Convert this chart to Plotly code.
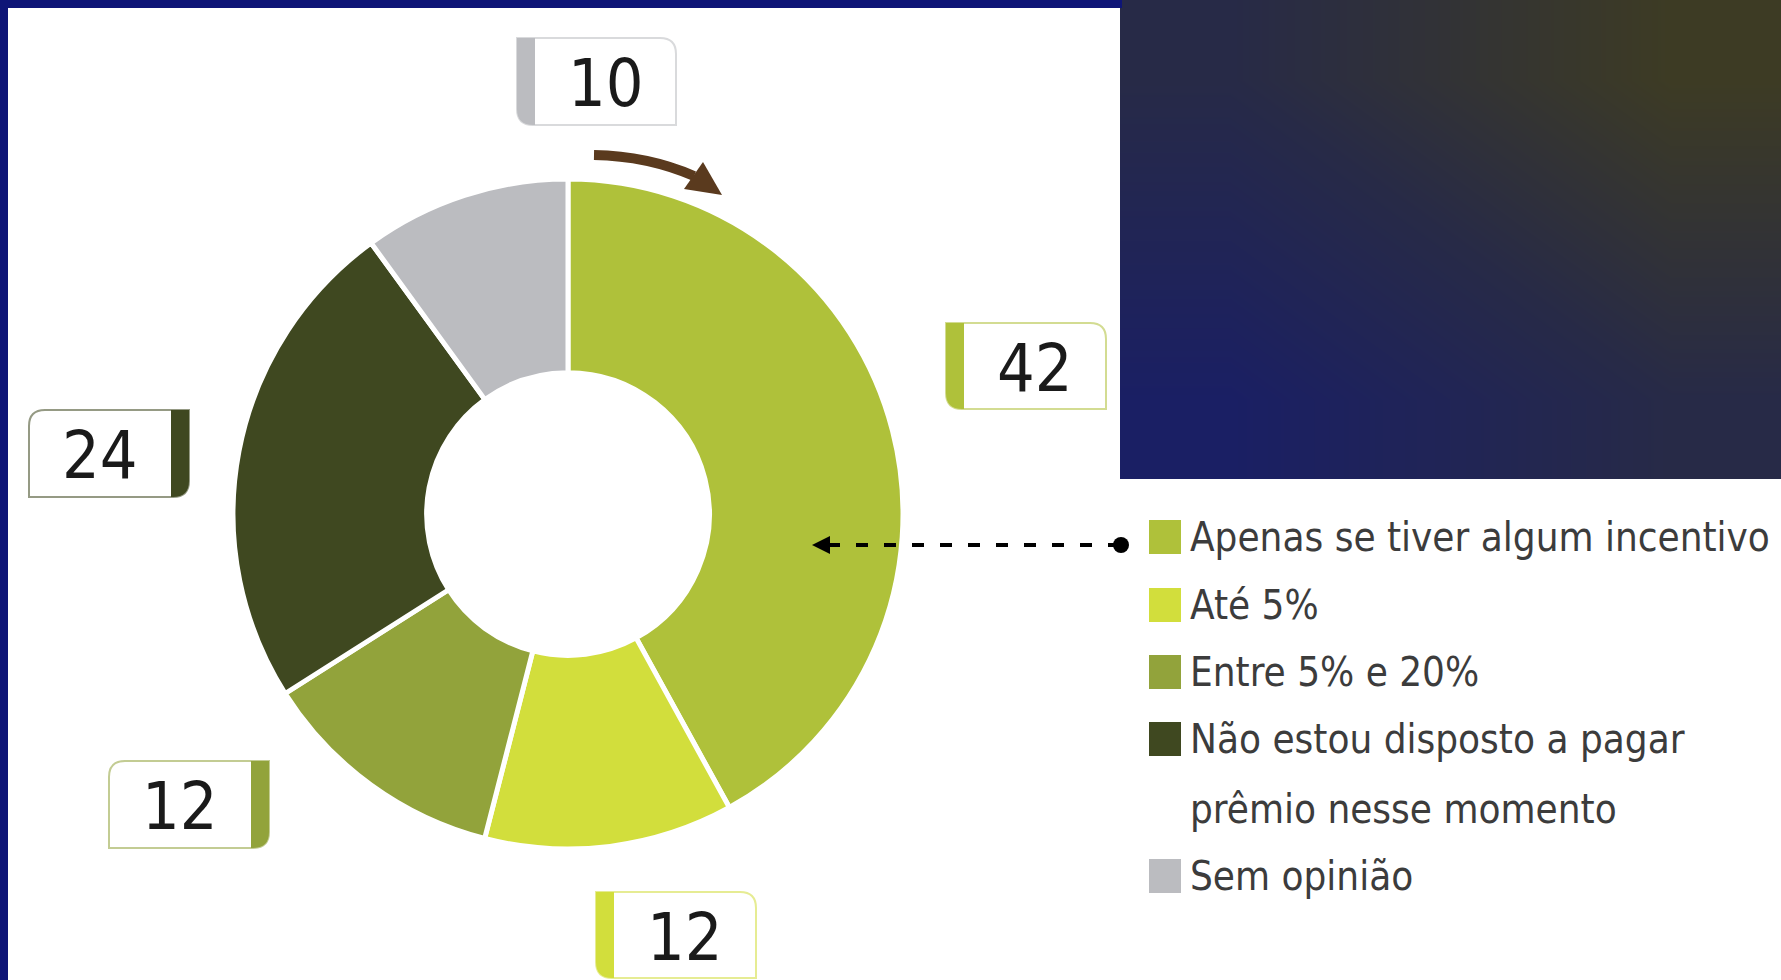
import plotly.graph_objects as go

# ---------------- data ----------------
categories = [
    "Apenas se tiver algum incentivo",
    "Até 5%",
    "Entre 5% e 20%",
    "Não estou disposto a pagar prêmio nesse momento",
    "Sem opinião",
]
values = [42, 12, 12, 24, 10]
colors = ["#AFC13A", "#D2DE3C", "#92A33B", "#3F4820", "#BBBCC0"]

# ---------------- layout constants (pixels) ----------------
W, H = 1781, 980
CX, CY, R = 568, 514, 335
HOLE = 0.422

# label boxes: x0, y0, x1, y1, side of coloured bar
boxes = [
    (946, 323, 1106, 409, "left"),
    (596, 892, 756, 978, "left"),
    (109, 761, 269, 848, "right"),
    (29, 410, 189, 497, "right"),
    (517, 38, 676, 125, "left"),
]
BAR_W = 18
RAD = 16


def tint(hexc, f=0.45):
    h = hexc.lstrip("#")
    r, g, b = (int(h[i:i + 2], 16) for i in (0, 2, 4))
    r, g, b = (int(c + (255 - c) * f) for c in (r, g, b))
    return f"rgb({r},{g},{b})"


fig = go.Figure()

# decorative dark panel (top right) as smooth gradient
zpanel = [[(j / 2 + (1 - i / 2)) / 2 for j in range(3)] for i in range(3)]
fig.add_trace(go.Heatmap(
    z=zpanel, x=[1120, 1340, 1560, 1781], y=[0, 160, 320, 479],
    colorscale=[[0, "#1a1f64"], [0.5, "#272a47"], [1, "#3d3b24"]],
    zsmooth="best", showscale=False, hoverinfo="skip", xaxis="x", yaxis="y",
))

fig.add_trace(go.Pie(
    values=values, labels=categories, sort=False, direction="clockwise",
    rotation=0, hole=HOLE, textinfo="none", showlegend=False,
    marker=dict(colors=colors, line=dict(color="white", width=5)),
    domain=dict(x=[(CX - R) / W, (CX + R) / W],
                y=[(H - CY - R) / H, (H - CY + R) / H]),
    hovertemplate="%{label}: %{value}<extra></extra>",
))

shapes = []
annotations = []

# frame strips (blue)
shapes.append(dict(type="rect", x0=0, x1=8, y0=0, y1=H, fillcolor="#0e1577",
                   line_width=0, layer="above"))
shapes.append(dict(type="rect", x0=0, x1=1122, y0=0, y1=8, fillcolor="#0e1577",
                   line_width=0, layer="above"))

# label boxes with values
for (x0, y0, x1, y1, side), v, c in zip(boxes, values, colors):
    r = RAD
    if side == "left":
        outline = (f"M {x0},{y0} L {x1 - r},{y0} Q {x1},{y0} {x1},{y0 + r} "
                   f"L {x1},{y1} L {x0 + r},{y1} Q {x0},{y1} {x0},{y1 - r} Z")
        bar = (f"M {x0},{y0} L {x0 + BAR_W},{y0} L {x0 + BAR_W},{y1} "
               f"L {x0 + r},{y1} Q {x0},{y1} {x0},{y1 - r} Z")
        tx = (x0 + BAR_W + x1) / 2
    else:
        outline = (f"M {x0 + r},{y0} L {x1},{y0} L {x1},{y1 - r} Q {x1},{y1} {x1 - r},{y1} "
                   f"L {x0},{y1} L {x0},{y0 + r} Q {x0},{y0} {x0 + r},{y0} Z")
        bar = (f"M {x1 - BAR_W},{y0} L {x1},{y0} L {x1},{y1 - r} "
               f"Q {x1},{y1} {x1 - r},{y1} L {x1 - BAR_W},{y1} Z")
        tx = (x0 + x1 - BAR_W) / 2
    shapes.append(dict(type="path", path=outline, xref="x", yref="y",
                       fillcolor="white", line=dict(color=tint(c), width=2), layer="above"))
    shapes.append(dict(type="path", path=bar, xref="x", yref="y",
                       fillcolor=c, line_width=0, layer="above"))
    annotations.append(dict(x=tx, y=(y0 + y1) / 2 + 2, xref="x", yref="y", text=str(v),
                            showarrow=False, xanchor="center", yanchor="middle",
                            font=dict(family="DejaVu Sans Condensed, DejaVu Sans", size=66,
                                      color="#1a1a1a")))

# brown rotation arrow
brown = "#5a3a1e"
shapes.append(dict(type="path", path="M 594,155 Q 648,156 694,176", xref="x", yref="y",
                   line=dict(color=brown, width=10), fillcolor="rgba(0,0,0,0)", layer="above"))
shapes.append(dict(type="path", path="M 722,195 L 703,162 L 684,189 Z", xref="x", yref="y",
                   fillcolor=brown, line_width=0, layer="above"))

# dashed pointer from legend to first slice
shapes.append(dict(type="line", x0=828, x1=1115, y0=545, y1=545, xref="x", yref="y",
                   line=dict(color="black", width=4, dash="12px,16px"), layer="above"))
shapes.append(dict(type="path", path="M 812,545 L 830,536 L 830,554 Z", xref="x", yref="y",
                   fillcolor="black", line_width=0, layer="above"))
shapes.append(dict(type="circle", x0=1113, x1=1129, y0=537, y1=553, xref="x", yref="y",
                   fillcolor="black", line_width=0, layer="above"))

# custom legend
row_y = [537, 605, 672, 739, 876]
wrap = {3: ["Não estou disposto a pagar", "prêmio nesse momento"]}
LINE_GAP = 70
for i, (cat, c, yy) in enumerate(zip(categories, colors, row_y)):
    shapes.append(dict(type="rect", x0=1149, x1=1181, y0=yy - 17, y1=yy + 17,
                       xref="x", yref="y", fillcolor=c, line_width=0, layer="above"))
    lines = wrap.get(i, [cat])
    for k, ln in enumerate(lines):
        annotations.append(dict(x=1188, y=yy + k * LINE_GAP, xref="x", yref="y", text=ln,
                                showarrow=False, xanchor="left", yanchor="middle",
                                font=dict(family="DejaVu Sans Condensed, Liberation Sans",
                                          size=40, color="#3c3c3c")))

fig.update_layout(
    width=W, height=H, margin=dict(l=0, r=0, t=0, b=0),
    paper_bgcolor="white", plot_bgcolor="white",
    xaxis=dict(range=[0, W], visible=False, domain=[0, 1], fixedrange=True),
    yaxis=dict(range=[H, 0], visible=False, domain=[0, 1], fixedrange=True),
    shapes=shapes, annotations=annotations, showlegend=False,
)

fig.write_html("out.html", config=dict(displayModeBar=False),
               post_script="document.body.style.margin='0';document.body.style.overflow='hidden';")
